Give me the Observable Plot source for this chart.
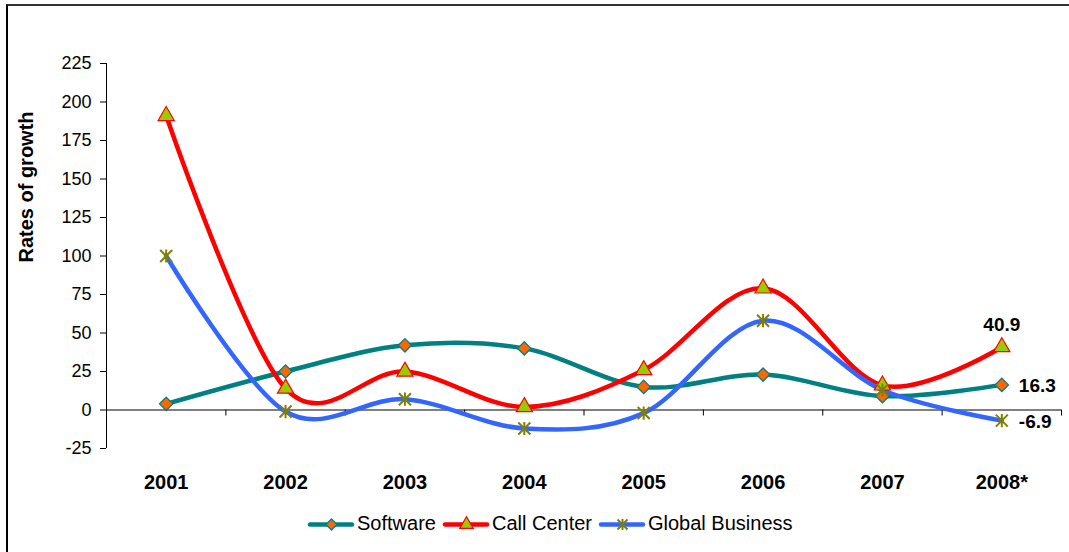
<!DOCTYPE html>
<html>
<head>
<meta charset="utf-8">
<script src="https://cdn.jsdelivr.net/npm/d3@7"></script>
<script src="https://cdn.jsdelivr.net/npm/@observablehq/plot@0.6"></script>
<style>
  html, body { margin: 0; padding: 0; background: #fff; }
  body { width: 1069px; height: 552px; position: relative; overflow: hidden; font-family: Arial, "Liberation Sans", sans-serif; }
  #frame { position: absolute; left: 6px; top: 4px; width: 1200px; height: 700px; border-top: 2px solid #333; border-left: 2px solid #000; box-sizing: border-box; }
  #chart { position: absolute; left: 0; top: 0; }
  #ytitle { position: absolute; left: 26px; top: 187px; transform: translate(-50%, -50%) rotate(-90deg); font-weight: bold; font-size: 20px; white-space: nowrap; color: #000; }
  #legend { position: absolute; left: 308px; top: 512px; display: flex; align-items: center; font-size: 20px; color: #000; }
  #legend .item { display: flex; align-items: center; margin-right: 7px; }
  #legend svg { margin-right: 3px; }
</style>
</head>
<body>
<div id="frame"></div>
<div id="chart"></div>
<div id="ytitle">Rates of growth</div>
<div id="legend"></div>
<script>
const years = ["2001", "2002", "2003", "2004", "2005", "2006", "2007", "2008*"];
const software = [4, 25, 42, 40, 15, 23, 9, 16.3];
const callCenter = [191, 14, 25, 2, 26, 79, 16, 40.9];
const globalBusiness = [100, -1, 7, -12, -2, 58, 13, -6.9];
const yTicks = [-25, 0, 25, 50, 75, 100, 125, 150, 175, 200, 225];
const seriesNames = ["Software", "Call Center", "Global Business"];

// Excel-style star marker: an X crossed by a vertical bar
const starSymbol = {
  draw(context, size) {
    const r = Math.sqrt(size / Math.PI);
    context.moveTo(-r, -r); context.lineTo(r, r);
    context.moveTo(-r, r); context.lineTo(r, -r);
    context.moveTo(0, -r * 1.1); context.lineTo(0, r * 1.1);
  }
};

const styles = {
  "Software": {stroke: "#008080", symbol: "diamond2", fill: "#FF6600", mstroke: "#008080", r: 6, sw: 1.3},
  "Call Center": {stroke: "#FF0000", symbol: "triangle", fill: "#99CC00", mstroke: "#FF0000", r: 6, sw: 1.2},
  "Global Business": {stroke: "#3366FF", symbol: starSymbol, fill: "none", mstroke: "#808000", r: 6, sw: 2}
};

const seriesValues = [software, callCenter, globalBusiness];
const rows = [];
seriesNames.forEach((name, s) => {
  seriesValues[s].forEach((v, i) => rows.push({series: name, i: i + 0.5, year: years[i], value: v}));
});
const bounds = d3.range(years.length + 1);
const last = rows.filter(d => d.i === years.length - 0.5);

const marks = [
  Plot.ruleY([0], {stroke: "#000", strokeWidth: 1}),
  Plot.ruleX(bounds, {x: d => d, y1: 0, y2: 0, insetBottom: -6, stroke: "#000", strokeWidth: 1}),
  Plot.ruleX([0], {stroke: "#000", strokeWidth: 1}),
  Plot.axisY({ticks: yTicks, tickSize: 6, tickPadding: 9, fontSize: 18, label: null, tickFormat: d => d}),
  Plot.axisX({ticks: years.map((_, i) => i + 0.5), tickFormat: d => years[Math.round(d - 0.5)], tickSize: 0, tickPadding: 26, fontSize: 20, fontWeight: "bold", label: null})
];
seriesNames.forEach(name => {
  const st = styles[name];
  const data = rows.filter(d => d.series === name);
  marks.push(Plot.line(data, {x: "i", y: "value", stroke: st.stroke, strokeWidth: 4.5, curve: "cardinal"}));
});
seriesNames.forEach(name => {
  const st = styles[name];
  const data = rows.filter(d => d.series === name);
  marks.push(Plot.dot(data, {x: "i", y: "value", symbol: st.symbol, r: st.r, fill: st.fill, stroke: st.mstroke, strokeWidth: st.sw}));
});
marks.push(Plot.text(last.filter(d => d.series === "Call Center"), {x: "i", y: "value", text: d => d.value.toFixed(1), dy: -22, fontSize: 19, fontWeight: "bold", fill: "#000"}));
marks.push(Plot.text(last.filter(d => d.series !== "Call Center"), {x: "i", y: "value", text: d => d.value.toFixed(1), dx: 17, dy: 1, textAnchor: "start", fontSize: 19, fontWeight: "bold", fill: "#000"}));

const chart = Plot.plot({
  width: 1069,
  height: 500,
  marginTop: 63,
  marginLeft: 106,
  marginRight: 8,
  marginBottom: 52,
  style: {fontFamily: "Arial, 'Liberation Sans', sans-serif", color: "#000", background: "transparent", overflow: "visible"},
  x: {type: "linear", domain: [0, years.length], axis: null},
  y: {domain: [-25, 225], axis: null},
  marks
});
document.getElementById("chart").appendChild(chart);

// legend
const legend = document.getElementById("legend");
seriesNames.forEach(name => {
  const st = styles[name];
  const item = document.createElement("div");
  item.className = "item";
  const sample = Plot.plot({
    width: 46, height: 20, margin: 0,
    x: {domain: [0, 1], axis: null}, y: {domain: [0, 1], axis: null},
    style: {background: "transparent", overflow: "visible"},
    marks: [
      Plot.ruleY([{v: 0.5}], {y: "v", stroke: st.stroke, strokeWidth: 4.5, strokeLinecap: "round", insetLeft: 2, insetRight: 2}),
      Plot.dot([{x: 0.5, y: 0.5}], {x: "x", y: "y", symbol: st.symbol, r: st.r - 1, fill: st.fill, stroke: st.mstroke, strokeWidth: st.sw})
    ]
  });
  item.appendChild(sample);
  const label = document.createElement("span");
  label.textContent = name;
  item.appendChild(label);
  legend.appendChild(item);
});
</script>
</body>
</html>
